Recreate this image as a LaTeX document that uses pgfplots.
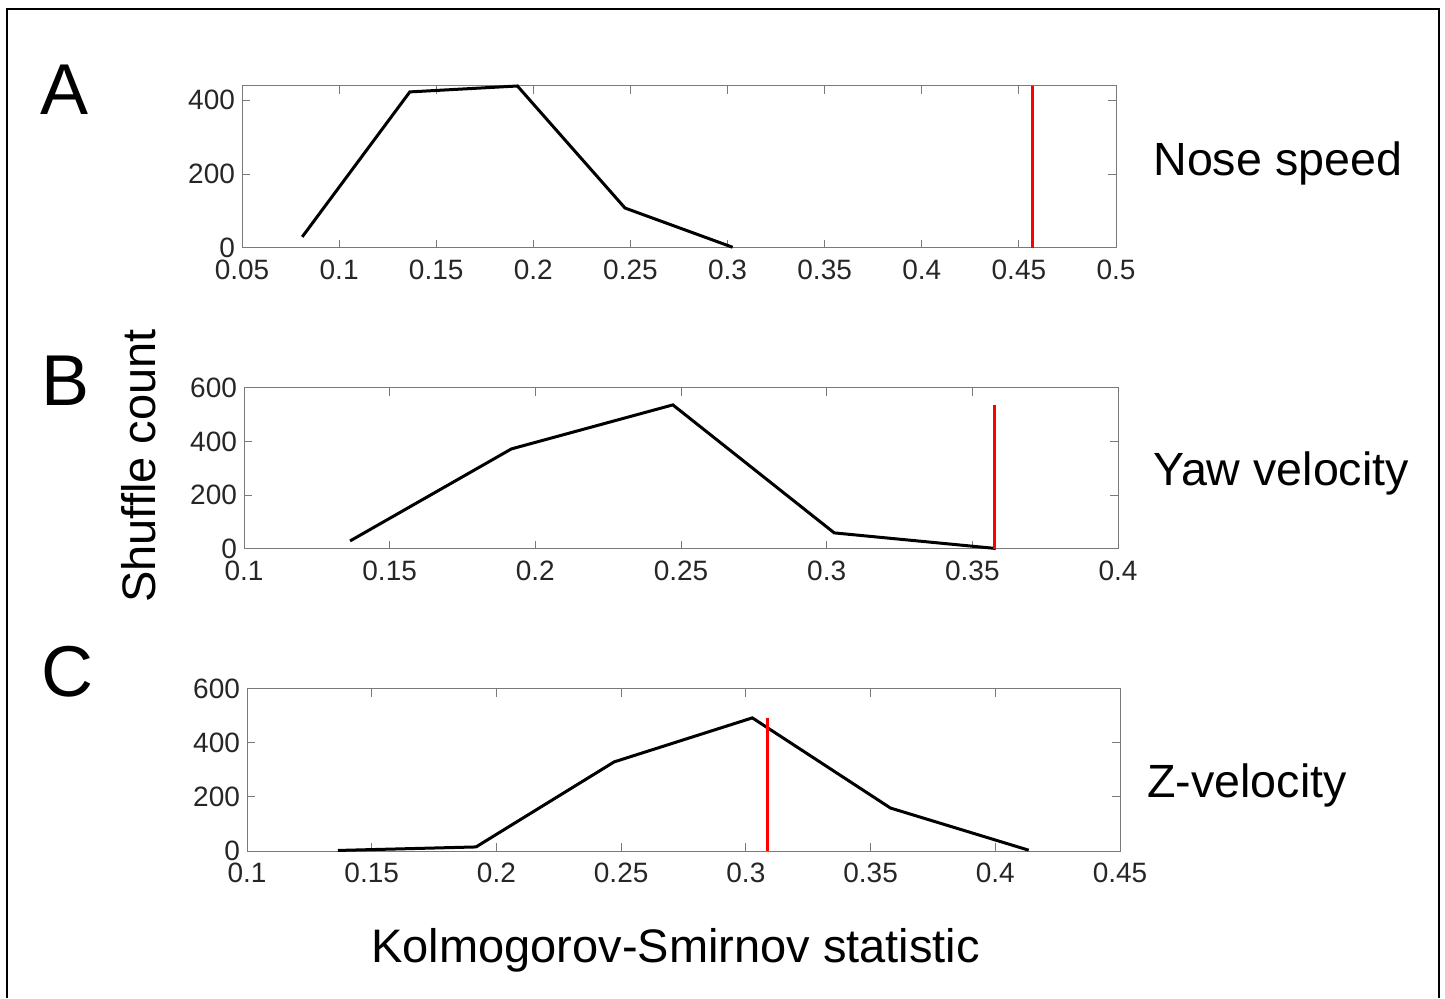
\documentclass[border=0pt]{standalone}
\usepackage{pgfplots}
\pgfplotsset{compat=1.18}
\usepackage{fontspec}
\setmainfont{Liberation Sans}

\definecolor{axgray}{RGB}{122,122,122}
\definecolor{ticktext}{RGB}{38,38,38}
\definecolor{ksred}{RGB}{255,0,0}

\pgfplotsset{
  ksaxis/.style={
    scale only axis,
    anchor=south west,
    axis line style={axgray, line width=0.5bp},
    every tick/.style={axgray, line width=0.5bp},
    tick align=inside,
    major tick length=4bp,
    xtick pos=both, ytick pos=both,
    tick label style={font=\fontsize{14bp}{16bp}\selectfont, text=ticktext},
    xticklabel style={yshift=-2.5bp},
    /pgf/number format/assume math mode=true,
    /pgf/number format/fixed,
    /pgf/number format/precision=2,
    scaled x ticks=false,
    scaled y ticks=false,
    ymin=0,
    clip=false,
  },
  ksline/.style={black, line width=1.5bp, mark=none},
  ksobs/.style={ksred, line width=1.5bp, mark=none},
}

\begin{document}
\begin{tikzpicture}
  % page extent and frame
  \path (0,0) rectangle (722.5bp,499bp);
  \draw[black, line width=1bp] (3.5bp,0bp) -- (3.5bp,494.5bp) -- (719.5bp,494.5bp) -- (719.5bp,0bp);

  % A: nose speed
  \begin{axis}[ksaxis, at={(121bp,375bp)}, width=437bp, height=81bp,
      xmin=0.05, xmax=0.5, xtick={0.05,0.1,...,0.5},
      ymax=438, ytick={0,200,400}]
    \addplot[ksline] coordinates {(0.0810,30) (0.1364,422) (0.1918,438) (0.2472,108) (0.3026,2)};
    \addplot[ksobs] coordinates {(0.4572,0) (0.4572,438)};
  \end{axis}

  % B: yaw velocity
  \begin{axis}[ksaxis, at={(122bp,224.5bp)}, width=437bp, height=80.5bp,
      xmin=0.1, xmax=0.4, xtick={0.1,0.15,...,0.4},
      ymax=600, ytick={0,200,400,600}]
    \addplot[ksline] coordinates {(0.1364,30) (0.1918,373) (0.2472,537) (0.3026,60) (0.3580,2)};
    \addplot[ksobs] coordinates {(0.3577,0) (0.3577,537)};
  \end{axis}

  % C: z-velocity
  \begin{axis}[ksaxis, at={(123.5bp,73.5bp)}, width=436.5bp, height=81bp,
      xmin=0.1, xmax=0.45, xtick={0.1,0.15,...,0.45},
      ymax=600, ytick={0,200,400,600}]
    \addplot[ksline] coordinates {(0.1364,2) (0.1918,15) (0.2472,330) (0.3026,493) (0.3580,159) (0.4134,3)};
    \addplot[ksobs] coordinates {(0.3085,0) (0.3085,493)};
  \end{axis}

  % panel letters
  \node[anchor=base west, inner sep=0pt, font=\fontsize{36bp}{40bp}\selectfont] at (20bp,441.5bp) {A};
  \node[anchor=base west, inner sep=0pt, font=\fontsize{36bp}{40bp}\selectfont] at (20.5bp,296bp) {B};
  \node[anchor=base west, inner sep=0pt, font=\fontsize{36bp}{40bp}\selectfont] at (20.5bp,150.5bp) {C};

  % variable names
  \node[anchor=base west, inner sep=0pt, font=\fontsize{23.3bp}{26bp}\selectfont] at (576.5bp,411bp) {Nose speed};
  \node[anchor=base west, inner sep=0pt, font=\fontsize{23.3bp}{26bp}\selectfont] at (576.5bp,256bp) {Yaw velocity};
  \node[anchor=base west, inner sep=0pt, font=\fontsize{23.3bp}{26bp}\selectfont] at (573.5bp,100bp) {Z-velocity};

  % shared axis labels
  \node[anchor=base west, inner sep=0pt, font=\fontsize{23.5bp}{26bp}\selectfont] at (185.5bp,18bp) {Kolmogorov-Smirnov statistic};
  \node[rotate=90, anchor=center, inner sep=0pt, font=\fontsize{23.5bp}{26bp}\selectfont] at (69.5bp,266bp) {Shuffle count};
\end{tikzpicture}
\end{document}
